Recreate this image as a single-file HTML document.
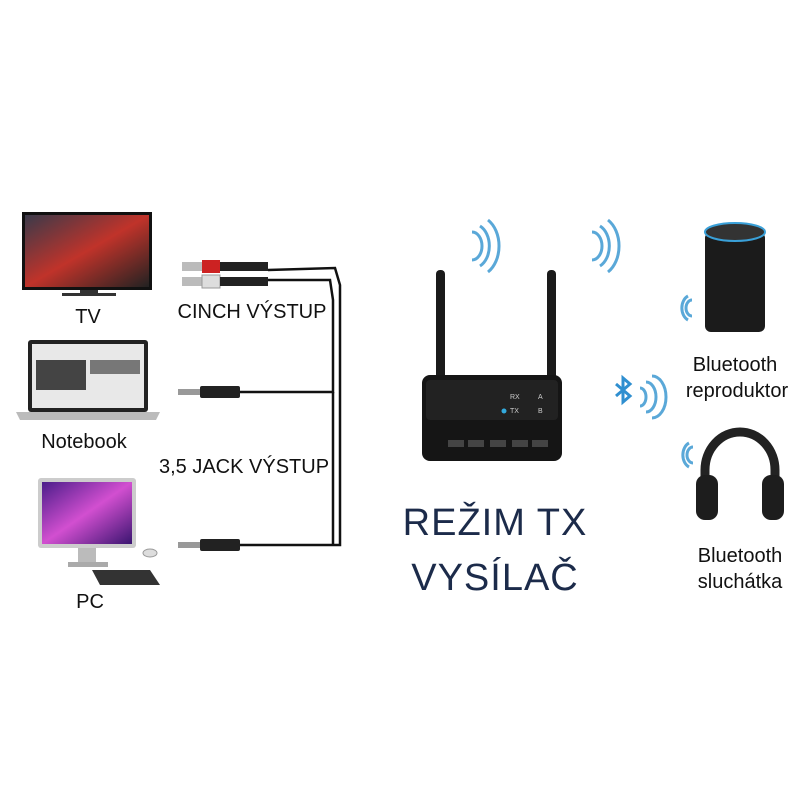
<!DOCTYPE html>
<html><head><meta charset="utf-8"><style>
body{margin:0;width:800px;height:800px;background:#fff;position:relative;overflow:hidden;font-family:"Liberation Sans",sans-serif;}
.t{position:absolute;color:#111;font-size:20px;white-space:nowrap;transform:translateX(-50%);}
.big{position:absolute;color:#1c2b4a;font-size:38px;white-space:nowrap;transform:translateX(-50%);letter-spacing:1px;}
</style></head><body>
<svg width="800" height="800" style="position:absolute;left:0;top:0">
<defs>
<linearGradient id="scr" x1="0" y1="0" x2="1" y2="1"><stop offset="0" stop-color="#3a3a4a"/><stop offset="0.5" stop-color="#c0332a"/><stop offset="1" stop-color="#222"/></linearGradient>
<linearGradient id="pcs" x1="0" y1="0" x2="1" y2="1"><stop offset="0" stop-color="#4b1d8a"/><stop offset="0.5" stop-color="#d24fd0"/><stop offset="1" stop-color="#3a1570"/></linearGradient>
</defs>
<rect x="22" y="212" width="130" height="78" fill="#111"/>
<rect x="25" y="215" width="124" height="72" fill="url(#scr)"/>
<rect x="80" y="290" width="18" height="4" fill="#333"/>
<rect x="62" y="293" width="54" height="3" fill="#333"/>
<rect x="28" y="340" width="120" height="72" rx="3" fill="#222"/>
<rect x="32" y="344" width="112" height="64" fill="#e8e8e8"/>
<rect x="36" y="360" width="50" height="30" fill="#444"/>
<rect x="90" y="360" width="50" height="14" fill="#777"/>
<path d="M16 412 L160 412 L156 420 L20 420 Z" fill="#bbb"/>
<rect x="38" y="478" width="98" height="70" rx="3" fill="#ccc"/>
<rect x="42" y="482" width="90" height="62" fill="url(#pcs)"/>
<rect x="78" y="548" width="18" height="14" fill="#bbb"/>
<rect x="68" y="562" width="40" height="5" fill="#aaa"/>
<path d="M92 570 L150 570 L160 585 L100 585 Z" fill="#333"/>
<ellipse cx="150" cy="553" rx="7" ry="4" fill="#ddd" stroke="#999"/>
<g fill="none" stroke="#111" stroke-width="2.5">
<path d="M268 270 L335 268 L340 285 L340 545 L240 545"/>
<path d="M268 280 L330 280 L333 300 L333 392 L240 392"/>
<path d="M333 392 L333 545"/>
</g>
<rect x="182" y="262" width="20" height="9" fill="#bbb"/><rect x="202" y="260" width="18" height="13" fill="#c22"/><rect x="220" y="262" width="48" height="9" fill="#222"/>
<rect x="182" y="277" width="20" height="9" fill="#bbb"/><rect x="202" y="275" width="18" height="13" fill="#ddd" stroke="#999"/><rect x="220" y="277" width="48" height="9" fill="#222"/>
<rect x="178" y="389" width="22" height="6" fill="#999"/><rect x="200" y="386" width="40" height="12" rx="2" fill="#222"/>
<rect x="178" y="542" width="22" height="6" fill="#999"/><rect x="200" y="539" width="40" height="12" rx="2" fill="#222"/>
<rect x="436" y="270" width="9" height="110" rx="4" fill="#1a1a1a"/>
<rect x="547" y="270" width="9" height="110" rx="4" fill="#1a1a1a"/>
<g fill="none" stroke="#5aa8d8" stroke-width="3">
<path d="M472 232 a10 14 0 0 1 0 28"/><path d="M480 226 a16 22 0 0 1 0 40"/><path d="M488 220 a22 30 0 0 1 0 52"/>
<path d="M592 232 a10 14 0 0 1 0 28"/><path d="M600 226 a16 22 0 0 1 0 40"/><path d="M608 220 a22 30 0 0 1 0 52"/>
<path d="M692 300 a6 8 0 0 0 0 16"/><path d="M688 296 a10 13 0 0 0 0 24"/>
<path d="M693 447 a6 8 0 0 0 0 16"/><path d="M689 443 a10 13 0 0 0 0 24"/>
<path d="M640 388 a6 9 0 0 1 0 18"/><path d="M646 382 a10 15 0 0 1 0 30"/><path d="M652 376 a14 21 0 0 1 0 42"/>
</g>
<path d="M616 384 L630 396 L623 402 L623 378 L630 384 L616 396" fill="none" stroke="#2f8fd0" stroke-width="3"/>
<rect x="422" y="375" width="140" height="86" rx="8" fill="#151515"/>
<rect x="426" y="380" width="132" height="40" rx="4" fill="#222"/>
<circle cx="504" cy="411" r="2.5" fill="#3ad"/>
<g fill="#ccc" font-size="7" font-family="Liberation Sans"><text x="510" y="399">RX</text><text x="510" y="413">TX</text><text x="538" y="399">A</text><text x="538" y="413">B</text></g>
<g fill="#444"><rect x="448" y="440" width="16" height="7"/><rect x="468" y="440" width="16" height="7"/><rect x="490" y="440" width="16" height="7"/><rect x="512" y="440" width="16" height="7"/><rect x="532" y="440" width="16" height="7"/></g>
<rect x="705" y="232" width="60" height="100" rx="6" fill="#1b1b1b"/>
<ellipse cx="735" cy="232" rx="30" ry="9" fill="#333" stroke="#3aa0d8" stroke-width="2"/>
<path d="M705 500 L705 470 a35 38 0 0 1 70 0 L775 500" fill="none" stroke="#222" stroke-width="9"/>
<rect x="696" y="475" width="22" height="45" rx="9" fill="#1d1d1d"/>
<rect x="762" y="475" width="22" height="45" rx="9" fill="#1d1d1d"/>
</svg>
<div class="t" style="left:88px;top:306px">TV</div>
<div class="t" style="left:84px;top:431px">Notebook</div>
<div class="t" style="left:90px;top:591px">PC</div>
<div class="t" style="left:252px;top:301px">CINCH VÝSTUP</div>
<div class="t" style="left:244px;top:456px">3,5 JACK VÝSTUP</div>
<div class="big" style="left:495px;top:502px">REŽIM TX</div>
<div class="big" style="left:495px;top:557px">VYSÍLAČ</div>
<div class="t" style="left:735px;top:354px">Bluetooth</div>
<div class="t" style="left:737px;top:380px">reproduktor</div>
<div class="t" style="left:740px;top:545px">Bluetooth</div>
<div class="t" style="left:740px;top:571px">sluchátka</div>
</body></html>
